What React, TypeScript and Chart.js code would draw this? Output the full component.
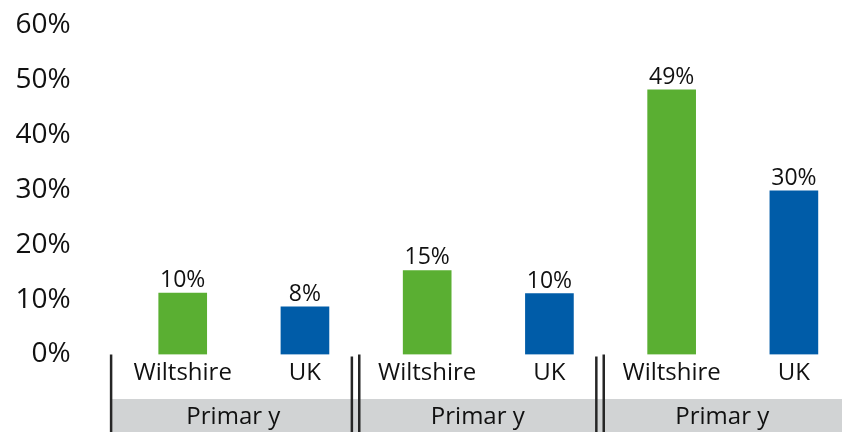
import React, { useEffect, useRef } from 'react';
import { Chart, registerables } from 'chart.js';

Chart.register(...registerables);

const categories = ['Wiltshire', 'UK', 'Wiltshire', 'UK', 'Wiltshire', 'UK'];
const values = [11.2, 8.7, 15.3, 11.1, 48.2, 29.8];
const valueLabels = ['10%', '8%', '15%', '10%', '49%', '30%'];
const groupLabels = ['Primar y', 'Primar y', 'Primar y'];
const groupSize = 2;
const yMin = 0;
const yMax = 60;
const yStep = 10;

const GREEN = '#5aaf32';
const BLUE = '#005ca8';
const barColors = categories.map((c) => (c === 'UK' ? BLUE : GREEN));

const FONT = "'Open Sans', 'Noto Sans', sans-serif";
const TEXT = '#111111';

const decorPlugin = {
  id: 'decor',
  afterDraw(chart: any) {
    const ctx = chart.ctx as CanvasRenderingContext2D;
    const xs = chart.scales.x;
    const area = chart.chartArea;
    const step = xs.getPixelForValue(1) - xs.getPixelForValue(0);
    const shift = 10.5;
    const bandTop = area.bottom + 44.5;
    const bottom = chart.height;
    const nGroups = groupLabels.length;
    const boundary = (g: number) => xs.getPixelForValue(g * groupSize) - step / 2 - shift;

    ctx.save();
    // grey band
    const first = boundary(0);
    ctx.fillStyle = '#d1d3d4';
    ctx.fillRect(first, bandTop, chart.width - first, bottom - bandTop);

    // separators
    ctx.strokeStyle = '#262626';
    ctx.lineWidth = 2.5;
    for (let g = 0; g < nGroups; g++) {
      const b = boundary(g);
      const xsList = g === 0 ? [b] : [b - 3.7, b + 3.7];
      xsList.forEach((x, k) => {
        ctx.beginPath();
        ctx.moveTo(x, area.bottom + (g > 0 && k === 0 ? 2 : 0));
        ctx.lineTo(x, bottom);
        ctx.stroke();
      });
    }

    // group labels
    ctx.fillStyle = TEXT;
    ctx.font = `24px ${FONT}`;
    ctx.textAlign = 'center';
    ctx.textBaseline = 'middle';
    for (let g = 0; g < nGroups; g++) {
      const cx = (boundary(g) + boundary(g + 1)) / 2;
      ctx.fillText(groupLabels[g], cx, area.bottom + 63);
    }

    // value labels
    const meta = chart.getDatasetMeta(0);
    ctx.font = `23px ${FONT}`;
    ctx.textBaseline = 'alphabetic';
    meta.data.forEach((bar: any, i: number) => {
      ctx.fillText(valueLabels[i], bar.x, bar.y - 6);
    });
    ctx.restore();
  },
};

export default function App() {
  const ref = useRef<HTMLCanvasElement | null>(null);

  useEffect(() => {
    if (!ref.current) return;
    const chart = new Chart(ref.current, {
      type: 'bar',
      data: {
        labels: categories,
        datasets: [
          {
            data: values,
            backgroundColor: barColors,
            barThickness: 48,
            borderWidth: 0,
          },
        ],
      },
      options: {
        responsive: false,
        animation: false,
        layout: { padding: { top: 25, right: 5, left: 0, bottom: 0 } },
        plugins: {
          legend: { display: false },
          tooltip: { enabled: false },
        },
        scales: {
          x: {
            grid: { display: false, drawTicks: false },
            border: { display: false },
            ticks: {
              color: TEXT,
              font: { family: FONT, size: 24 },
              padding: 4,
              maxRotation: 0,
              autoSkip: false,
            },
            afterFit: (s: any) => {
              s.height = 77.5;
            },
          },
          y: {
            min: yMin,
            max: yMax,
            grid: { display: false, drawTicks: false },
            border: { display: false },
            ticks: {
              stepSize: yStep,
              color: TEXT,
              font: { family: FONT, size: 28 },
              padding: 51,
              callback: (v: any) => `${v}%`,
            },
            afterFit: (s: any) => {
              s.width = 121.6;
              s.paddingTop = 16;
              s.paddingBottom = 16;
            },
          },
        },
      },
      plugins: [decorPlugin],
    });
    return () => chart.destroy();
  }, []);

  return (
    <div
      style={{
        position: 'fixed',
        left: 0,
        top: 0,
        width: 842,
        height: 432,
        overflow: 'hidden',
        background: '#ffffff',
      }}
    >
      <canvas ref={ref} width={860} height={432} style={{ width: 860, height: 432, display: 'block' }} />
    </div>
  );
}
